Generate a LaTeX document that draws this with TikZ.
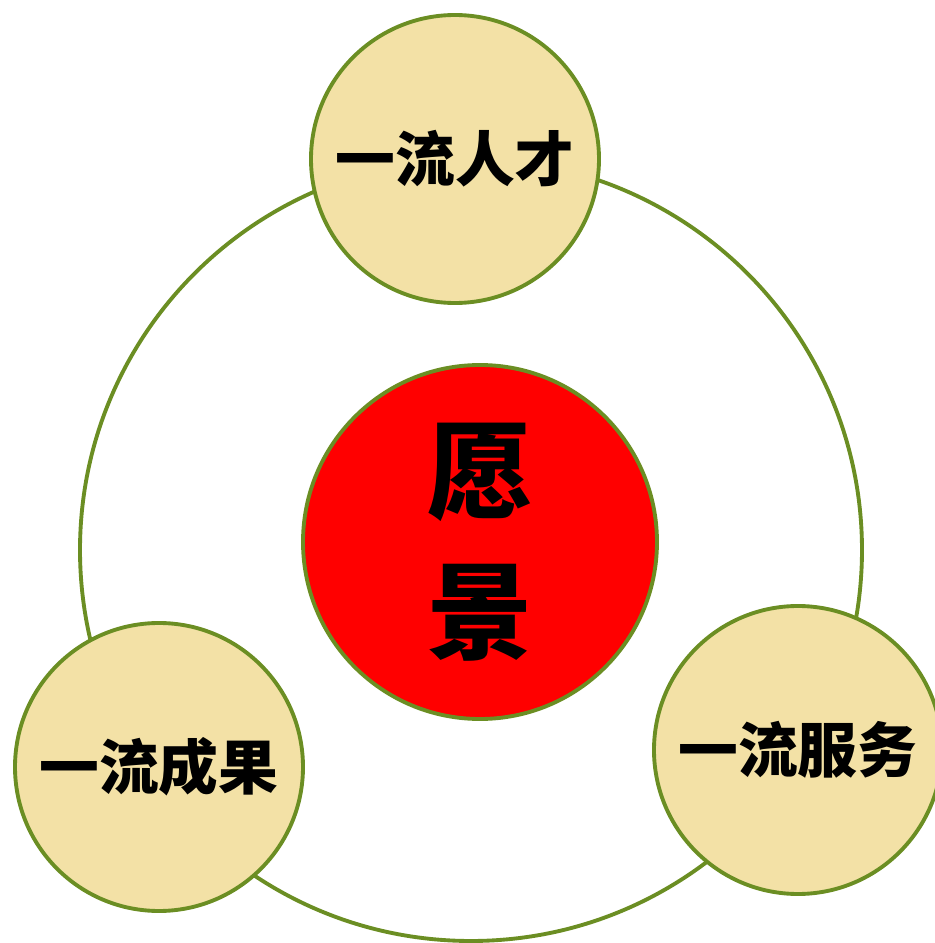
\documentclass[tikz,border=0pt]{standalone}
\usepackage{fontspec}
\newfontfamily\cjk{Noto Sans CJK SC}
\definecolor{ringgreen}{HTML}{6B8E23}
\definecolor{goalfill}{HTML}{F3E1A6}
\usetikzlibrary{positioning}

\begin{document}
\begin{tikzpicture}
\useasboundingbox (0,0) rectangle (9.35,9.43);
\tikzset{
  ringline/.style={draw=ringgreen,line width=1.1pt},
  goal/.style={ringline,circle,fill=goalfill,minimum size=2.88cm,inner sep=0pt,font=\cjk\fontsize{17}{20}\selectfont\bfseries},
}
\node[ringline,circle,minimum size=7.82cm] (ring) at (4.71,3.93) {};
\node[ringline,circle,fill=red,minimum size=3.54cm,inner sep=0pt,align=center,font=\cjk\fontsize{30}{40}\selectfont\bfseries] (vision) at (4.80,4.01) {愿\\景};
\node[goal] (talent) at (4.55,7.84) {一流人才};
\node[goal] (result) at (1.59,1.76) {一流成果};
\node[goal] (service) at (7.98,1.93) {一流服务};
\end{tikzpicture}
\end{document}
